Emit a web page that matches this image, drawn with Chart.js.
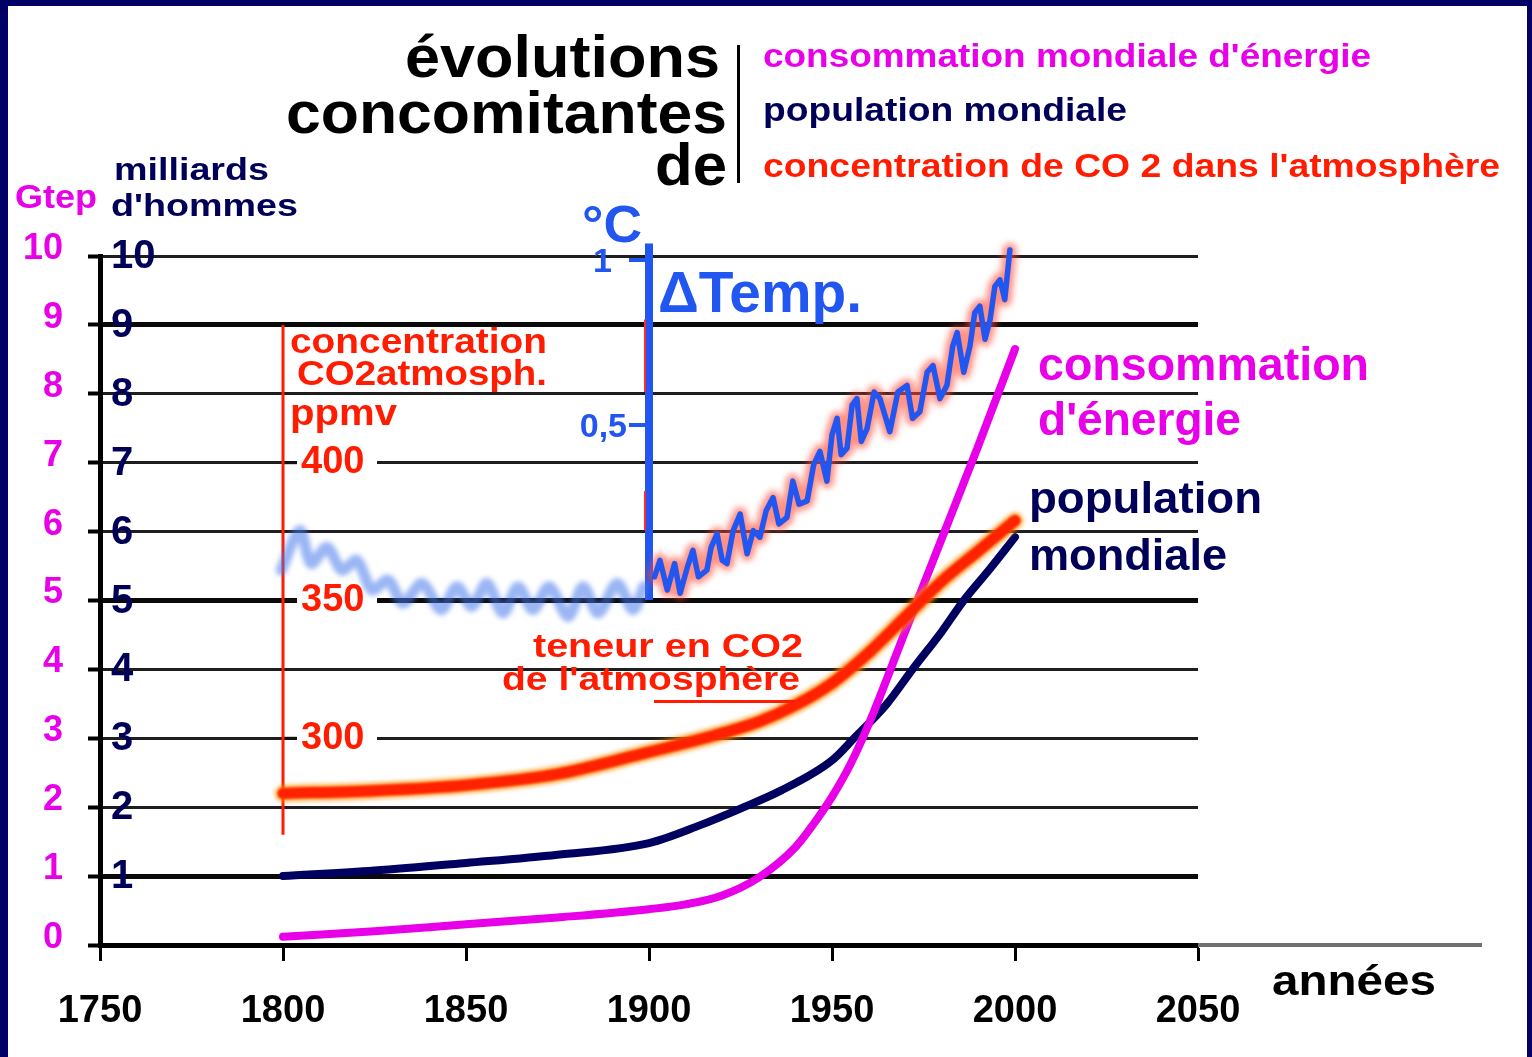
<!DOCTYPE html>
<html>
<head>
<meta charset="utf-8">
<script src="https://cdn.jsdelivr.net/npm/chart.js@4.4.1/dist/chart.umd.min.js"></script>
<style>
  html, body { margin: 0; padding: 0; background: #fff; overflow: hidden; }
  #frame { position: absolute; left: 0; top: 0; width: 1532px; height: 1057px; box-sizing: border-box;
           border-left: 8px solid #000066; border-top: 6px solid #000066; border-right: 5px solid #000066; }
  #chart { position: absolute; left: 0; top: 0; }
</style>
</head>
<body>
<div id="frame"></div>
<canvas id="chart" width="1532" height="1057"></canvas>
<script>
// ---- data ----
const energyYears = [1800, 1825, 1850, 1875, 1900, 1910, 1920, 1930, 1940, 1945, 1950, 1955, 1960, 1970, 1980, 1990, 2000];
const energyGtep  = [0.12, 0.2, 0.3, 0.4, 0.52, 0.59, 0.72, 0.98, 1.42, 1.76, 2.15, 2.62, 3.2, 4.55, 5.9, 7.25, 8.65];

const popYears    = [1800, 1825, 1850, 1875, 1900, 1914, 1925, 1936, 1950, 1956, 1965, 1972, 1980, 1986, 1993, 2000];
const popBillions = [1.0, 1.08, 1.19, 1.31, 1.48, 1.74, 1.98, 2.24, 2.68, 3.0, 3.5, 4.0, 4.55, 5.0, 5.45, 5.92];

const co2Years = [1800, 1825, 1850, 1875, 1900, 1915, 1930, 1940, 1950, 1960, 1970, 1980, 1990, 2000];
const co2Ppm   = [280, 281, 283, 287, 295, 300, 306, 312, 320, 331, 344, 357, 368, 379];

// temperature anomaly (°C), measured part after 1900
const tempYears = [1901.5, 1903, 1905, 1907, 1908.5, 1910.5, 1912, 1913.5, 1915.8, 1917, 1918.6, 1920, 1921.3, 1923,
  1924.9, 1926.8, 1928.5, 1930.3, 1932, 1933.9, 1935.5, 1937.7, 1939.3, 1941, 1943.2, 1945, 1946.7, 1948.6, 1950,
  1951.4, 1952.5, 1954.1, 1955.5, 1956.8, 1958, 1959.6, 1961.5, 1963.1, 1965.8, 1968, 1970.5, 1972, 1974, 1976,
  1977.6, 1979.5, 1981.4, 1983, 1984.2, 1986, 1987.7, 1989, 1990.4, 1991.8, 1993.2, 1994.5, 1995.9, 1997.2, 1998.6];
const tempAnom = [0.04, 0.09, 0.0, 0.08, -0.01, 0.07, 0.12, 0.04, 0.06, 0.13, 0.17, 0.09, 0.08, 0.18,
  0.23, 0.11, 0.18, 0.16, 0.24, 0.28, 0.2, 0.22, 0.33, 0.26, 0.27, 0.38, 0.42, 0.33, 0.47,
  0.52, 0.41, 0.43, 0.56, 0.58, 0.45, 0.49, 0.6, 0.58, 0.48, 0.6, 0.62, 0.52, 0.54, 0.66,
  0.68, 0.58, 0.62, 0.74, 0.78, 0.66, 0.74, 0.84, 0.86, 0.76, 0.82, 0.92, 0.94, 0.88, 1.03];

// faded reconstruction before 1900
const tempPreYears = [1799.5, 1804.6, 1807.7, 1812, 1816.1, 1820.2, 1824.3, 1828.7, 1832.8, 1838, 1843.2, 1847.5,
  1851.6, 1855.7, 1860.1, 1864.2, 1868.3, 1872.7, 1877.9, 1882, 1886.1, 1891.3, 1895.6, 1898.6];
const tempPreAnom = [0.06, 0.18, 0.08, 0.13, 0.06, 0.09, 0.0, 0.03, -0.04, 0.02, -0.06, 0.01,
  -0.05, 0.02, -0.07, 0.01, -0.06, 0.01, -0.08, 0.01, -0.07, 0.02, -0.06, 0.01];

const yTicks = [0, 1, 2, 3, 4, 5, 6, 7, 8, 9, 10];
const popTickLabels = ["1", "2", "3", "4", "5", "6", "7", "8", "9", "10"];
const thickGrid = [0, 1, 5, 9];
const co2Ticks = [400, 350, 300];
const tempTicks = [1, 0.5];
const tempTickLabels = ["1", "0,5"];

const FONT = "'Liberation Sans', Arial, sans-serif";
const MAGENTA = "#e800e8", NAVY = "#000058", RED = "#ff1c00", BLUE = "#2256f0";

const pts = (xs, ys) => xs.map((x, i) => ({ x: x, y: ys[i] }));

// text squeezed/stretched to the width it takes in the picture
function fitText(ctx, txt, x, y, size, color, width, align) {
  ctx.save();
  ctx.font = "bold " + size + "px " + FONT;
  ctx.fillStyle = color;
  ctx.textBaseline = "alphabetic";
  ctx.textAlign = "left";
  const w = ctx.measureText(txt).width;
  const sx = width ? width / w : 1;
  const left = align === "right" ? x - w * sx : x;
  ctx.translate(left, y);
  ctx.scale(sx, 1);
  ctx.fillText(txt, 0, 0);
  ctx.restore();
}

const blurPlugin = {
  id: "blur",
  beforeDatasetDraw(chart, args) {
    const ds = chart.data.datasets[args.index];
    if (ds.blur) { chart.ctx.save(); chart.ctx.filter = "blur(" + ds.blur + "px)"; }
  },
  afterDatasetDraw(chart, args) {
    if (chart.data.datasets[args.index].blur) chart.ctx.restore();
  }
};

const decorPlugin = {
  id: "decor",
  beforeDatasetsDraw(chart) {
    const ctx = chart.ctx, x = chart.scales.x, yCO2 = chart.scales.yCO2, yT = chart.scales.yTemp;
    const area = chart.chartArea;
    ctx.save();
    // x axis running on past 2050
    ctx.strokeStyle = "#707070"; ctx.lineWidth = 4;
    ctx.beginPath(); ctx.moveTo(area.right, area.bottom); ctx.lineTo(1482, area.bottom); ctx.stroke();

    // CO2 axis at 1800
    const cx = x.getPixelForValue(1800);
    ctx.fillStyle = "#fff";
    co2Ticks.forEach(v => { const py = yCO2.getPixelForValue(v); ctx.fillRect(cx + 14, py - 7, 80, 14); });
    ctx.strokeStyle = "#111"; ctx.lineWidth = 3;
    co2Ticks.forEach(v => {
      const py = yCO2.getPixelForValue(v);
      ctx.beginPath(); ctx.moveTo(cx, py); ctx.lineTo(cx + 14, py); ctx.stroke();
    });
    ctx.strokeStyle = RED; ctx.lineWidth = 3;
    ctx.beginPath(); ctx.moveTo(cx, yCO2.getPixelForValue(450)); ctx.lineTo(cx, yCO2.getPixelForValue(265)); ctx.stroke();

    // temperature axis at 1900
    const tx = x.getPixelForValue(1900);
    ctx.strokeStyle = BLUE; ctx.lineWidth = 8;
    ctx.beginPath(); ctx.moveTo(tx, yT.getPixelForValue(-0.03)); ctx.lineTo(tx, yT.getPixelForValue(1.05)); ctx.stroke();
    ctx.lineWidth = 4;
    tempTicks.forEach(v => {
      const py = yT.getPixelForValue(v);
      ctx.beginPath(); ctx.moveTo(tx - 20, py); ctx.lineTo(tx, py); ctx.stroke();
    });
    ctx.strokeStyle = "#ff2a2a"; ctx.lineWidth = 2;
    [[0.6, 0.82], [0.18, 0.3]].forEach(r => {
      ctx.beginPath(); ctx.moveTo(tx - 4, yT.getPixelForValue(r[0])); ctx.lineTo(tx - 4, yT.getPixelForValue(r[1])); ctx.stroke();
    });
    ctx.restore();
  },
  afterDatasetsDraw(chart) {
    const ctx = chart.ctx, y = chart.scales.y, yCO2 = chart.scales.yCO2, yT = chart.scales.yTemp, x = chart.scales.x;
    const area = chart.chartArea;

    // population scale labels, inside the axis
    ctx.save();
    ctx.font = "bold 40px " + FONT; ctx.fillStyle = NAVY; ctx.textAlign = "left"; ctx.textBaseline = "middle";
    popTickLabels.forEach((t, i) => ctx.fillText(t, area.left + 11, y.getPixelForValue(i + 1) + 1));
    // CO2 labels
    ctx.font = "bold 38px " + FONT; ctx.fillStyle = RED;
    co2Ticks.forEach(v => ctx.fillText(String(v), x.getPixelForValue(1800) + 18, yCO2.getPixelForValue(v)));
    // temperature labels
    ctx.font = "bold 34px " + FONT; ctx.fillStyle = BLUE; ctx.textAlign = "right";
    tempTicks.forEach((v, i) => ctx.fillText(tempTickLabels[i], x.getPixelForValue(1900) - 22 - (v === 1 ? 15 : 0), yT.getPixelForValue(v) + 3));
    ctx.restore();

    // title block
    fitText(ctx, "évolutions", 720, 77, 60, "#000", 315, "right");
    fitText(ctx, "concomitantes", 727, 133, 60, "#000", 441, "right");
    fitText(ctx, "de", 727, 185, 60, "#000", 72, "right");
    ctx.save(); ctx.fillStyle = "#000"; ctx.fillRect(737, 45, 3, 138); ctx.restore();

    fitText(ctx, "consommation mondiale d'énergie", 763, 67, 33, MAGENTA, 608);
    fitText(ctx, "population mondiale", 763, 121, 33, NAVY, 364);
    fitText(ctx, "concentration de CO 2 dans l'atmosphère", 763, 177, 33, RED, 737);

    // axis titles
    fitText(ctx, "Gtep", 15, 208, 34, MAGENTA, 82);
    fitText(ctx, "milliards", 114, 180, 32, NAVY, 155);
    fitText(ctx, "d'hommes", 111, 216, 32, NAVY, 187);
    fitText(ctx, "°C", 582, 242, 52, BLUE, 60);
    fitText(ctx, "ΔTemp.", 658, 312, 58, BLUE, 204);
    fitText(ctx, "années", 1272, 995, 42, "#000", 164);

    // CO2 notes
    fitText(ctx, "concentration", 290, 353, 35, RED, 257);
    fitText(ctx, "CO2atmosph.", 297, 385, 35, RED, 250);
    fitText(ctx, "ppmv", 290, 425, 36, RED, 107);
    fitText(ctx, "teneur en CO2", 533, 657, 34, RED, 270);
    fitText(ctx, "de l'atmosphère", 502, 690, 34, RED, 298);
    ctx.save(); ctx.fillStyle = RED; ctx.fillRect(654, 700, 141, 3); ctx.restore();

    // series labels on the right
    fitText(ctx, "consommation", 1038, 380, 46, MAGENTA, 331);
    fitText(ctx, "d'énergie", 1038, 435, 46, MAGENTA, 203);
    fitText(ctx, "population", 1029, 513, 44, NAVY, 233);
    fitText(ctx, "mondiale", 1029, 570, 44, NAVY, 198);
  }
};

new Chart(document.getElementById("chart").getContext("2d"), {
  type: "line",
  data: {
    datasets: [
      { label: "ΔTemp.", data: pts(tempYears, tempAnom), yAxisID: "yTemp", borderColor: BLUE, borderWidth: 5.5, tension: 0, order: 3 },
      { label: "ΔTemp. halo", data: pts(tempYears, tempAnom), yAxisID: "yTemp", borderColor: "rgba(255,70,50,0.6)", borderWidth: 14, tension: 0, blur: 3, order: 4 },
      { label: "CO2", data: pts(co2Years, co2Ppm), yAxisID: "yCO2", borderColor: "#ff2200", borderWidth: 11, cubicInterpolationMode: "monotone", blur: 0.8, order: 5 },
      { label: "CO2 halo", data: pts(co2Years, co2Ppm), yAxisID: "yCO2", borderColor: "rgba(255,140,0,0.8)", borderWidth: 16, cubicInterpolationMode: "monotone", blur: 2, order: 6 },
      { label: "énergie", data: pts(energyYears, energyGtep), yAxisID: "y", borderColor: MAGENTA, borderWidth: 8, cubicInterpolationMode: "monotone", blur: 0.6, order: 7 },
      { label: "population", data: pts(popYears, popBillions), yAxisID: "y", borderColor: "#000060", borderWidth: 8, cubicInterpolationMode: "monotone", blur: 0.6, order: 8 },
      { label: "ΔTemp. avant 1900", data: pts(tempPreYears, tempPreAnom), yAxisID: "yTemp", borderColor: "rgba(70,120,235,0.55)", borderWidth: 11, tension: 0.3, blur: 2.5, order: 9 }
    ]
  },
  options: {
    responsive: false,
    animation: false,
    devicePixelRatio: 1,
    layout: { padding: { left: 0, top: 256, right: 334, bottom: 0 } },
    elements: { point: { radius: 0 }, line: { borderCapStyle: "round", borderJoinStyle: "round" } },
    datasets: { line: { clip: false } },
    plugins: { legend: { display: false }, tooltip: { enabled: false } },
    scales: {
      x: {
        type: "linear", min: 1750, max: 2050,
        ticks: { stepSize: 50, font: { family: FONT, size: 38, weight: "bold" }, color: "#000", padding: 28, maxRotation: 0, autoSkip: false,
                 callback: v => String(v) },
        grid: { drawOnChartArea: false, drawTicks: true, tickLength: 16, tickWidth: 3, tickColor: "#000" },
        border: { display: true, color: "#000", width: 5 },
        afterFit: s => { s.height = 112; }
      },
      y: {
        min: 0, max: 10,
        afterBuildTicks: s => { s.ticks = yTicks.map(v => ({ value: v })); },
        ticks: { font: { family: FONT, size: 36, weight: "bold" }, color: MAGENTA, padding: 25, labelOffset: -7 },
        grid: { color: ctx => thickGrid.includes(ctx.tick.value) ? "#0a0a0a" : "#1e1e1e",
                lineWidth: ctx => thickGrid.includes(ctx.tick.value) ? 5 : 3,
                tickLength: 12, tickColor: "#000", tickWidth: 4 },
        border: { color: "#000", width: 5 },
        afterFit: s => { s.width = 100; }
      },
      yTemp: { display: false, min: -1.0758, max: 1.0121 },
      yCO2: { display: false, min: 225, max: 475 }
    }
  },
  plugins: [blurPlugin, decorPlugin]
});
</script>
</body>
</html>
